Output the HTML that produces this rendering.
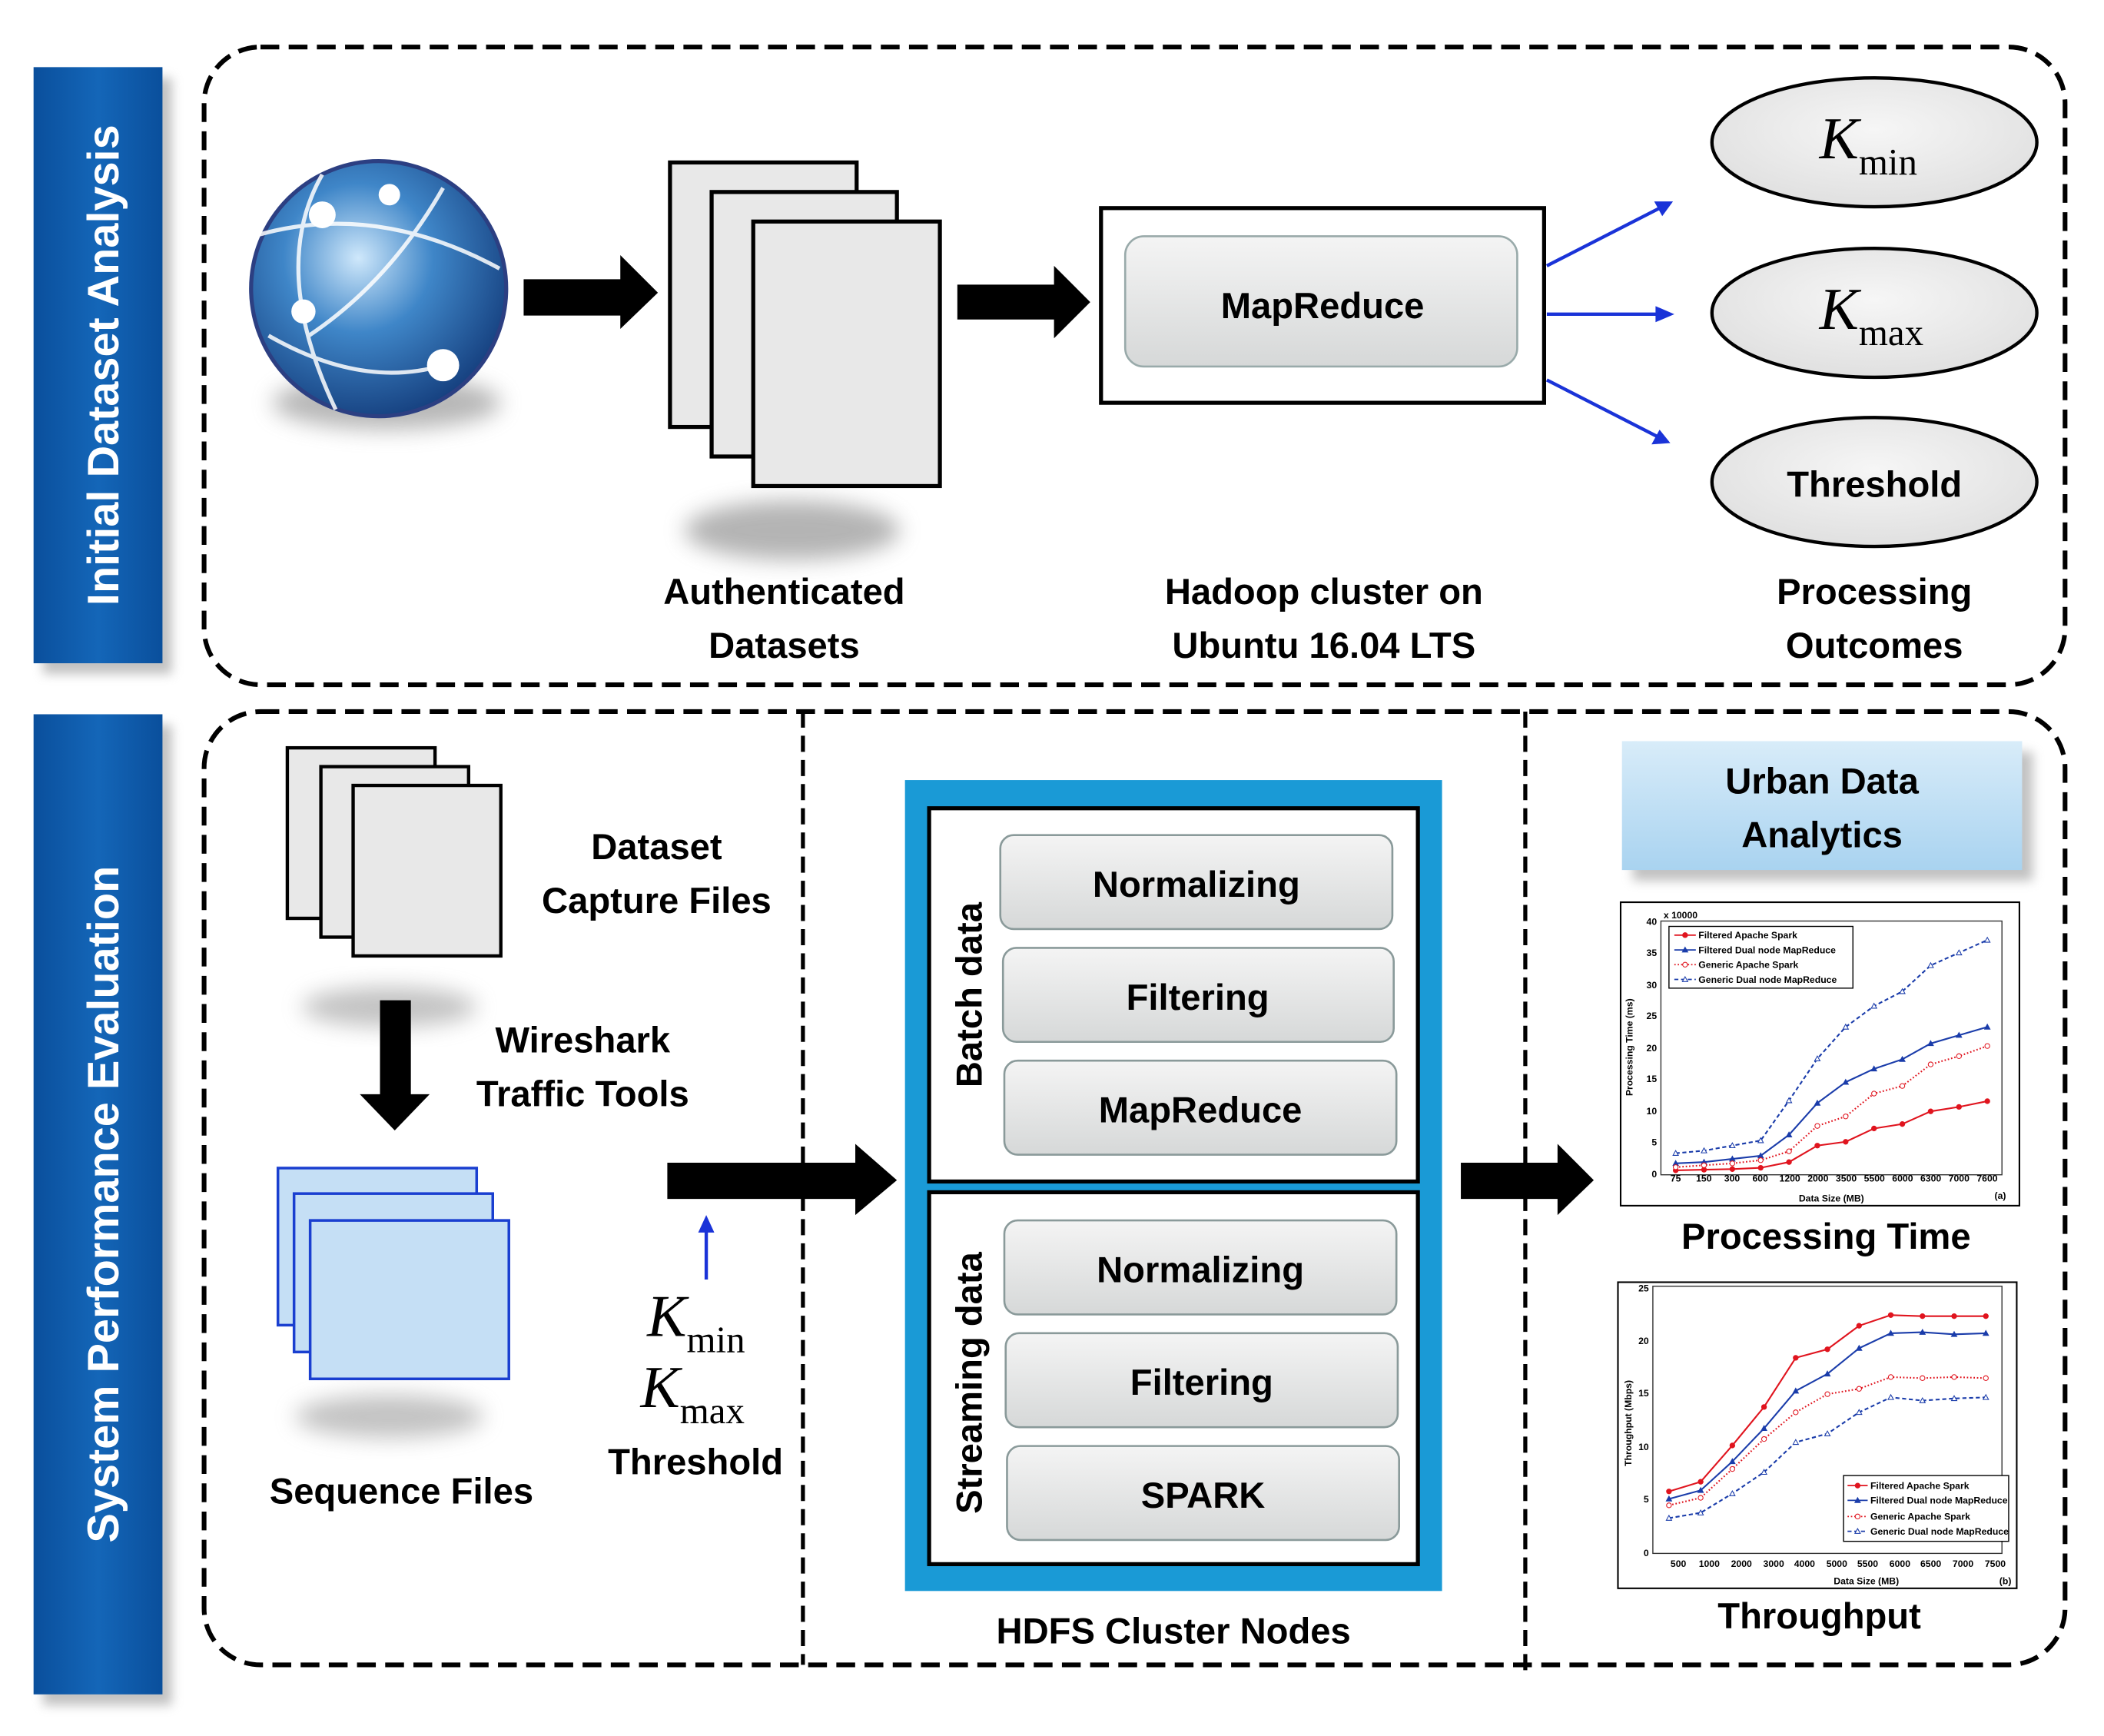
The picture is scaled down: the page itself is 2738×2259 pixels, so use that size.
<!DOCTYPE html>
<html><head><meta charset="utf-8"><style>
html,body{margin:0;padding:0;background:#fff}
svg{display:block}
text{font-family:"Liberation Sans",sans-serif}
.lb{font-weight:bold;font-size:27px;text-anchor:middle;fill:#000}
.k{font-family:"Liberation Serif",serif;font-style:italic;font-size:44px}
.ks{font-family:"Liberation Serif",serif;font-size:28px;font-style:normal}
.t{font-size:7px;fill:#000;font-weight:bold}
</style></head><body>
<svg id="s" width="2738" height="2259" viewBox="0 0 1567 1293" preserveAspectRatio="none" xmlns="http://www.w3.org/2000/svg">
<defs>
<linearGradient id="bar" x1="0" x2="1"><stop offset="0" stop-color="#0a4f9c"/><stop offset=".5" stop-color="#1466b8"/><stop offset="1" stop-color="#0a4f9c"/></linearGradient>
<linearGradient id="btn" x1="0" y1="0" x2="0" y2="1"><stop offset="0" stop-color="#f4f4f4"/><stop offset="1" stop-color="#d6d8d8"/></linearGradient>
<linearGradient id="urb" x1="0" y1="0" x2="0" y2="1"><stop offset="0" stop-color="#d8ecf9"/><stop offset="1" stop-color="#a9d3f0"/></linearGradient>
<radialGradient id="globe" cx=".42" cy=".38" r=".65"><stop offset="0" stop-color="#cfe8fb"/><stop offset=".45" stop-color="#3f86c8"/><stop offset="1" stop-color="#153f7e"/></radialGradient>
<radialGradient id="ell" cx=".5" cy=".4" r=".6"><stop offset="0" stop-color="#f6f6f6"/><stop offset="1" stop-color="#e0e0e0"/></radialGradient>
<filter id="blur" x="-50%" y="-50%" width="200%" height="200%"><feGaussianBlur stdDeviation="8"/></filter>
<filter id="blur2" x="-50%" y="-50%" width="200%" height="200%"><feGaussianBlur stdDeviation="4"/></filter>
</defs>

<rect x="32" y="58" width="96" height="444" fill="#999" filter="url(#blur2)" opacity=".6"/>
<rect x="25" y="50" width="96" height="444" fill="url(#bar)"/>
<text transform="translate(88,272) rotate(-90)" text-anchor="middle" font-size="33" font-weight="bold" fill="#fff">Initial Dataset Analysis</text>
<rect x="32" y="540" width="96" height="730" fill="#999" filter="url(#blur2)" opacity=".6"/>
<rect x="25" y="532" width="96" height="730" fill="url(#bar)"/>
<text transform="translate(88,897) rotate(-90)" text-anchor="middle" font-size="33" font-weight="bold" fill="#fff">System Performance Evaluation</text>

<rect x="152" y="35" width="1386" height="475" rx="42" fill="none" stroke="#000" stroke-width="3.5" stroke-dasharray="14 7"/>
<rect x="152" y="530" width="1386" height="710" rx="42" fill="none" stroke="#000" stroke-width="3.5" stroke-dasharray="14 7"/>
<line x1="598" y1="530" x2="598" y2="1240" stroke="#000" stroke-width="3" stroke-dasharray="12 6"/>
<line x1="1136" y1="530" x2="1136" y2="1245" stroke="#000" stroke-width="3" stroke-dasharray="12 6"/>

<ellipse cx="288" cy="300" rx="85" ry="20" fill="#888" filter="url(#blur)" opacity=".6"/>
<circle cx="282" cy="215" r="95" fill="url(#globe)" stroke="#2c3f82" stroke-width="3"/>
<g fill="none" stroke="#fff" stroke-width="3" opacity=".85">
<path d="M192 175 Q280 150 372 200"/><path d="M200 250 Q270 290 330 272"/>
<path d="M240 130 Q200 200 250 305"/><path d="M330 140 Q290 210 230 250"/>
</g>
<g fill="#fff"><circle cx="240" cy="160" r="10"/><circle cx="290" cy="145" r="8"/><circle cx="226" cy="232" r="9"/><circle cx="330" cy="272" r="12"/></g>

<polygon points="390,208 462,208 462,190 490,218 462,245 462,235 390,235" fill="#000"/>
<ellipse cx="590" cy="395" rx="80" ry="22" fill="#777" filter="url(#blur)" opacity=".55"/>
<g fill="#e8e8e8" stroke="#000" stroke-width="3">
<rect x="499" y="121" width="139" height="197"/><rect x="530" y="143" width="138" height="197"/><rect x="561" y="165" width="139" height="197"/></g>
<polygon points="713,212 785,212 785,198 812,225 785,252 785,238 713,238" fill="#000"/>
<rect x="820" y="155" width="330" height="145" fill="#fff" stroke="#000" stroke-width="3"/>
<rect x="838" y="176" width="292" height="97" rx="14" fill="url(#btn)" stroke="#9aa" stroke-width="1.5"/>
<text x="985" y="237" class="lb" font-size="28">MapReduce</text>
<g stroke="#1a33d8" stroke-width="2.5" fill="#1a33d8">
<line x1="1152" y1="198" x2="1238" y2="154"/><polygon points="1246,150 1232,150 1238,161" stroke="none"/>
<line x1="1152" y1="234" x2="1238" y2="234"/><polygon points="1247,234 1233,228 1233,240" stroke="none"/>
<line x1="1152" y1="283" x2="1236" y2="326"/><polygon points="1244,330 1230,331 1236,320" stroke="none"/>
</g>
<g fill="url(#ell)" stroke="#000" stroke-width="2.5">
<ellipse cx="1396" cy="106" rx="121" ry="48"/><ellipse cx="1396" cy="233" rx="121" ry="48"/><ellipse cx="1396" cy="359" rx="121" ry="48"/></g>
<text x="1355" y="118" class="k">K<tspan class="ks" dy="12">min</tspan></text>
<text x="1355" y="245" class="k">K<tspan class="ks" dy="12">max</tspan></text>
<text x="1396" y="370" class="lb" font-size="28">Threshold</text>

<text x="584" y="450" class="lb">Authenticated</text><text x="584" y="490" class="lb">Datasets</text>
<text x="986" y="450" class="lb">Hadoop cluster on</text><text x="986" y="490" class="lb">Ubuntu 16.04 LTS</text>
<text x="1396" y="450" class="lb">Processing</text><text x="1396" y="490" class="lb">Outcomes</text>

<ellipse cx="290" cy="750" rx="65" ry="15" fill="#888" filter="url(#blur)" opacity=".5"/>
<g fill="#e8e8e8" stroke="#000" stroke-width="2.5">
<rect x="214" y="557" width="110" height="127"/><rect x="239" y="571" width="110" height="127"/><rect x="263" y="585" width="110" height="127"/></g>
<text x="489" y="640" class="lb">Dataset</text><text x="489" y="680" class="lb">Capture Files</text>
<polygon points="283,745 306,745 306,815 320,815 294,842 268,815 283,815" fill="#000"/>
<text x="434" y="784" class="lb">Wireshark</text><text x="434" y="824" class="lb">Traffic Tools</text>
<ellipse cx="290" cy="1055" rx="70" ry="16" fill="#888" filter="url(#blur)" opacity=".5"/>
<g fill="#c5dff5" stroke="#1a3fd0" stroke-width="2">
<rect x="207" y="870" width="148" height="117"/><rect x="219" y="889" width="148" height="118"/><rect x="231" y="909" width="148" height="118"/></g>
<text x="299" y="1120" class="lb">Sequence Files</text>
<polygon points="497,866 637,866 637,852 668,879 637,905 637,893 497,893" fill="#000"/>
<line x1="526" y1="953" x2="526" y2="915" stroke="#1a33d8" stroke-width="2.5"/><polygon points="526,905 520,918 532,918" fill="#1a33d8"/>
<text x="482" y="995" class="k">K<tspan class="ks" dy="12">min</tspan></text>
<text x="477" y="1048" class="k">K<tspan class="ks" dy="12">max</tspan></text>
<text x="518" y="1098" class="lb">Threshold</text>

<rect x="674" y="581" width="400" height="604" fill="#1a9ad6"/>
<rect x="692" y="602" width="364" height="278" fill="#fff" stroke="#000" stroke-width="3"/>
<rect x="692" y="888" width="364" height="277" fill="#fff" stroke="#000" stroke-width="3"/>
<g fill="url(#btn)" stroke="#8a9a9a" stroke-width="1.5">
<rect x="745" y="622" width="292" height="70" rx="10"/><rect x="747" y="706" width="291" height="70" rx="10"/><rect x="748" y="790" width="292" height="70" rx="10"/>
<rect x="748" y="909" width="292" height="70" rx="10"/><rect x="749" y="993" width="292" height="70" rx="10"/><rect x="750" y="1077" width="292" height="70" rx="10"/></g>
<text x="891" y="668" class="lb" font-size="28">Normalizing</text>
<text x="892" y="752" class="lb" font-size="28">Filtering</text>
<text x="894" y="836" class="lb" font-size="28">MapReduce</text>
<text x="894" y="955" class="lb" font-size="28">Normalizing</text>
<text x="895" y="1039" class="lb" font-size="28">Filtering</text>
<text x="896" y="1123" class="lb" font-size="28">SPARK</text>
<text transform="translate(731,741) rotate(-90)" class="lb">Batch data</text>
<text transform="translate(731,1030) rotate(-90)" class="lb">Streaming data</text>
<text x="874" y="1224" class="lb">HDFS Cluster Nodes</text>
<polygon points="1088,866 1160,866 1160,852 1187,879 1160,905 1160,893 1088,893" fill="#000"/>

<rect x="1216" y="560" width="298" height="96" fill="#999" filter="url(#blur2)" opacity=".6"/>
<rect x="1208" y="552" width="298" height="96" fill="url(#urb)"/>
<text x="1357" y="591" class="lb">Urban Data</text><text x="1357" y="631" class="lb">Analytics</text>

<rect x="1207" y="672" width="297" height="226" fill="#fff" stroke="#000" stroke-width="1.2"/>
<rect x="1237" y="686" width="254" height="189" fill="none" stroke="#333" stroke-width=".8"/>
<g class="t" text-anchor="end">
<text x="1234" y="877">0</text><text x="1234" y="853">5</text><text x="1234" y="830">10</text><text x="1234" y="806">15</text><text x="1234" y="783">20</text><text x="1234" y="759">25</text><text x="1234" y="736">30</text><text x="1234" y="712">35</text><text x="1234" y="689">40</text></g>
<text x="1239" y="684" class="t">x 10000</text>
<g class="t" text-anchor="middle">
<text x="1248" y="880">75</text><text x="1269" y="880">150</text><text x="1290" y="880">300</text><text x="1311" y="880">600</text><text x="1333" y="880">1200</text><text x="1354" y="880">2000</text><text x="1375" y="880">3500</text><text x="1396" y="880">5500</text><text x="1417" y="880">6000</text><text x="1438" y="880">6300</text><text x="1459" y="880">7000</text><text x="1480" y="880">7600</text>
<text x="1364" y="895">Data Size (MB)</text></g>
<text x="1494" y="893" class="t" text-anchor="end">(a)</text>
<text transform="translate(1216,780) rotate(-90)" class="t" text-anchor="middle" font-weight="normal">Processing Time (ms)</text>
<rect x="1243" y="690" width="137" height="46" fill="#fff" stroke="#000" stroke-width=".8"/>
<g class="t" font-weight="normal"><text x="1265" y="699">Filtered Apache Spark</text><text x="1265" y="710">Filtered Dual node MapReduce</text><text x="1265" y="721">Generic Apache Spark</text><text x="1265" y="732">Generic Dual node MapReduce</text></g>
<text x="1360" y="930" class="lb" font-size="28">Processing Time</text>

<rect x="1205" y="955" width="297" height="228" fill="#fff" stroke="#000" stroke-width="1.2"/>
<rect x="1231" y="958" width="260" height="199" fill="none" stroke="#333" stroke-width=".8"/>
<g class="t" text-anchor="end">
<text x="1228" y="1159">0</text><text x="1228" y="1119">5</text><text x="1228" y="1080">10</text><text x="1228" y="1040">15</text><text x="1228" y="1001">20</text><text x="1228" y="962">25</text></g>
<g class="t" text-anchor="middle">
<text x="1250" y="1167">500</text><text x="1273" y="1167">1000</text><text x="1297" y="1167">2000</text><text x="1321" y="1167">3000</text><text x="1344" y="1167">4000</text><text x="1368" y="1167">5000</text><text x="1391" y="1167">5500</text><text x="1415" y="1167">6000</text><text x="1438" y="1167">6500</text><text x="1462" y="1167">7000</text><text x="1486" y="1167">7500</text>
<text x="1390" y="1180">Data Size (MB)</text></g>
<text x="1498" y="1180" class="t" text-anchor="end">(b)</text>
<text transform="translate(1215,1060) rotate(-90)" class="t" text-anchor="middle" font-weight="normal">Throughput (Mbps)</text>
<rect x="1373" y="1099" width="123" height="49" fill="#fff" stroke="#000" stroke-width=".8"/>
<g class="t" font-weight="normal"><text x="1393" y="1109">Filtered Apache Spark</text><text x="1393" y="1120">Filtered Dual node MapReduce</text><text x="1393" y="1132">Generic Apache Spark</text><text x="1393" y="1143">Generic Dual node MapReduce</text></g>
<text x="1355" y="1213" class="lb" font-size="28">Throughput</text>
<g id="lines"></g>
</svg>
<script>
(function(){
var g=document.getElementById('lines'),NS='http://www.w3.org/2000/svg';
function add(tag,a){var e=document.createElementNS(NS,tag);for(var k in a)e.setAttribute(k,a[k]);g.appendChild(e);}
function mark(x,y,col,fill,tri){
 if(tri)add('polygon',{points:(x-2)+','+(y+1.6)+' '+(x+2)+','+(y+1.6)+' '+x+','+(y-2),fill:fill,stroke:col,'stroke-width':.6});
 else add('circle',{cx:x,cy:y,r:1.8,fill:fill,stroke:col,'stroke-width':.6});
}
function series(x0,dx,y0,sc,vals,col,dash,fill,tri){
 var p=vals.map(function(v,i){return (x0+i*dx)+','+(y0-v*sc);}).join(' ');
 add('polyline',{points:p,fill:'none',stroke:col,'stroke-width':1.2,'stroke-dasharray':dash});
 vals.forEach(function(v,i){mark(x0+i*dx,y0-v*sc,col,fill,tri);});
}
var s1=4.725;
series(1248,21.1,875,s1,[.7,.8,.9,1.1,2,4.6,5.2,7.3,8,10,10.7,11.6],'#e0141e','',"#e0141e",false);
series(1248,21.1,875,s1,[1.8,2,2.5,3,6.3,11.3,14.6,16.7,18.2,20.7,22,23.3],'#1a3caa','',"#1a3caa",true);
series(1248,21.1,875,s1,[1.2,1.5,1.8,2.3,3.7,7.7,9.2,12.8,14,17.4,18.7,20.3],'#e0141e','1 1.5',"#fff",false);
series(1248,21.1,875,s1,[3.4,3.8,4.6,5.4,11.7,18.3,23.3,26.6,28.9,33,35,37],'#1a3caa','3 2',"#fff",true);
var s2=7.96;
series(1243,23.6,1157,s2,[5.8,6.7,10.1,13.7,18.3,19.1,21.3,22.3,22.2,22.2,22.2],'#e0141e','',"#e0141e",false);
series(1243,23.6,1157,s2,[5.1,5.9,8.6,11.7,15.2,16.8,19.2,20.6,20.7,20.5,20.6],'#1a3caa','',"#1a3caa",true);
series(1243,23.6,1157,s2,[4.5,5.2,7.9,10.7,13.2,14.9,15.4,16.5,16.4,16.5,16.4],'#e0141e','1 1.5',"#fff",false);
series(1243,23.6,1157,s2,[3.3,3.8,5.6,7.6,10.4,11.2,13.2,14.6,14.3,14.5,14.6],'#1a3caa','3 2',"#fff",true);
function legend(rows,x1,x2){rows.forEach(function(r){
 var y=r[0]-2.5;
 add('line',{x1:x1,x2:x2,y1:y,y2:y,stroke:r[1],'stroke-width':1,'stroke-dasharray':r[2]});
 mark((x1+x2)/2,y,r[1],r[3]?r[1]:'#fff',r[4]);});}
legend([[699,'#e0141e','',1,0],[710,'#1a3caa','',1,1],[721,'#e0141e','1 1.5',0,0],[732,'#1a3caa','3 2',0,1]],1247,1263);
legend([[1109,'#e0141e','',1,0],[1120,'#1a3caa','',1,1],[1132,'#e0141e','1 1.5',0,0],[1143,'#1a3caa','3 2',0,1]],1376,1391);
})();
</script>
</body></html>
